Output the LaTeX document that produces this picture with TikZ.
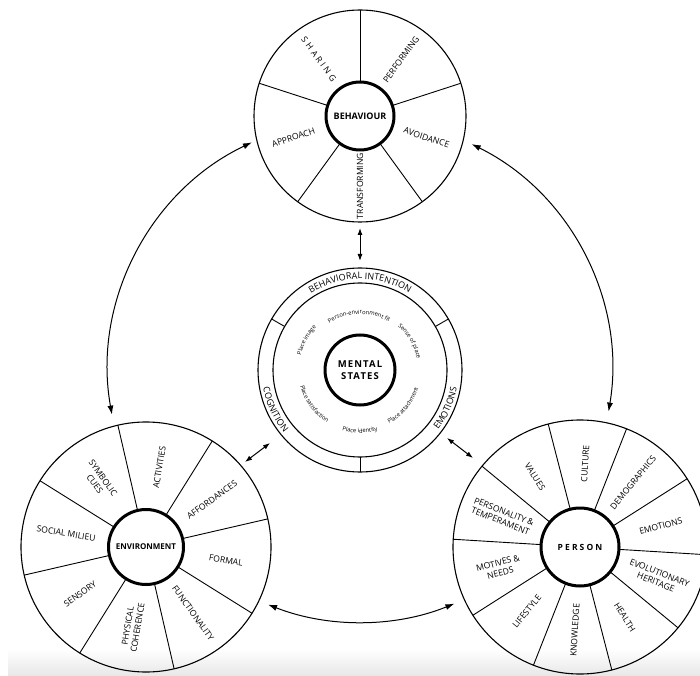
\documentclass[tikz,border=0pt]{standalone}
\usepackage{fontspec}
\setmainfont{Open Sans}
\newfontfamily\spaced[LetterSpace=30]{Open Sans}
\newfontfamily\spacedb[LetterSpace=25]{Open Sans}
\newfontfamily\spacedm[LetterSpace=12]{Open Sans}
\usetikzlibrary{arrows.meta,calc,decorations.text}
\newcommand\ringfnt{\fontsize{9}{10}\selectfont}
\newcommand\smallfnt{\fontsize{5.8}{7}\selectfont}
\tikzset{
  hub/.style={circle, draw, line width=3pt, fill=white, minimum size=#1, inner sep=0pt,
    font=\fontsize{8}{9}\selectfont\bfseries, align=center},
  rim/.style={line width=1.1pt},
  spoke/.style={line width=0.9pt},
  lbl/.style={font=\fontsize{8.6}{10}\selectfont, align=center, inner sep=0pt},
  link/.style={line width=1pt, {Latex[length=9pt,width=6pt]}-{Latex[length=9pt,width=6pt]}},
  slink/.style={line width=1pt, {Latex[length=7pt,width=5pt]}-{Latex[length=7pt,width=5pt]}},
}
\begin{document}
\begin{tikzpicture}[x=1pt,y=1pt]
\useasboundingbox (0,0) rectangle (700,675);
\clip (0,0) rectangle (700,675);
\fill[white] (0,0) rectangle (700,675);
\shade[top color=white, bottom color=black!9] (8,0) rectangle (700,26);

% ---------- centres
\coordinate (Bc) at (360,559);
\coordinate (Mc) at (360,305);
\coordinate (Ec) at (146,128);
\coordinate (Pc) at (580,128);

% ---------- Behaviour wheel
\draw[rim] (Bc) circle[radius=106pt];
\foreach \a in {18,90,162,234,306}
  \draw[spoke] ($(Bc)+(\a:34)$) -- ($(Bc)+(\a:106)$);
\node[hub=68pt, font=\fontsize{9}{10}\selectfont\bfseries] (B) at (Bc) {BEHAVIOUR};
\node[lbl, rotate=-54] (b1) at ($(Bc)+(126:70)$) {\spaced SHARING};
\node[lbl, rotate=54]  (b2) at ($(Bc)+(54:70)$)  {PERFORMING};
\node[lbl, rotate=-19] (b3) at ($(Bc)+(-18:70)$) {AVOIDANCE};
\node[lbl, rotate=90]  (b4) at ($(Bc)+(270:70)$) {TRANSFORMING};
\node[lbl, rotate=18]  (b5) at ($(Bc)+(198:70)$) {APPROACH};

% ---------- Environment wheel
\draw[rim] (Ec) circle[radius=125pt];
\foreach \a in {13,58,103,148,193,238,283,328}
  \draw[spoke] ($(Ec)+(\a:37.5)$) -- ($(Ec)+(\a:125)$);
\node[hub=75pt] (E) at (Ec) {ENVIRONMENT};
\foreach \a/\r/\t [count=\i] in {35.5/35.5/AFFORDANCES, 80.5/80.5/ACTIVITIES,
   125.5/-54.5/{SYMBOLIC\\CUES}, 170.5/-9.5/{SOCIAL MILIEU}, 215.5/35.5/SENSORY,
   260.5/80.5/{PHYSICAL\\COHERENCE}, 305.5/-54.5/FUNCTIONALITY, 350.5/-9.5/FORMAL}
  \node[lbl, rotate=\r] (e\i) at ($(Ec)+(\a:81)$) {\t};

% ---------- Person wheel
\draw[rim] (Pc) circle[radius=127pt];
\foreach \a in {-3.5,32.5,68.5,104.5,140.5,176.5,212.5,248.5,284.5,320.5}
  \draw[spoke] ($(Pc)+(\a:39)$) -- ($(Pc)+(\a:127)$);
\node[hub=78pt, font=\fontsize{8.5}{9}\selectfont\spacedb\bfseries] (P) at (Pc) {PERSON};
\foreach \a/\r/\t [count=\i] in {14.5/14.5/EMOTIONS, 50.5/50.5/DEMOGRAPHICS,
   86.5/86.5/CULTURE, 122.5/-57.5/VALUES, 158.5/-21.5/{PERSONALITY \&\\TEMPERAMENT},
   194.5/14.5/{MOTIVES \&\\NEEDS}, 230.5/50.5/LIFESTYLE, 266.5/86.5/KNOWLEDGE,
   302.5/-57.5/HEALTH, 338.5/-21.5/{EVOLUTIONARY\\HERITAGE}}
  \node[lbl, rotate=\r] (p\i) at ($(Pc)+(\a:83.5)$) {\t};

% ---------- Mental states
\draw[rim] (Mc) circle[radius=102pt];
\draw[rim] (Mc) circle[radius=87pt];
\foreach \a in {30,150,270}
  \draw[spoke] ($(Mc)+(\a:87)$) -- ($(Mc)+(\a:102)$);
\node[hub=70pt, font=\fontsize{9.5}{11.5}\selectfont\spacedm\bfseries] (M) at (Mc) {MENTAL\\STATES};

\path[decorate, decoration={text along path, text align=center,
   text={|\ringfnt|BEHAVIORAL INTENTION}}]
   ($(Mc)+(150:91)$) arc[start angle=150, end angle=30, radius=91pt];
\path[decorate, decoration={text along path, text align=center,
   text={|\ringfnt|COGNITION}}]
   ($(Mc)+(160:98.5)$) arc[start angle=160, end angle=250, radius=98.5pt];
\path[decorate, decoration={text along path, text align=center,
   text={|\ringfnt|EMOTIONS}}]
   ($(Mc)+(291:98.5)$) arc[start angle=291, end angle=381, radius=98.5pt];

% inner small texts (clockwise, tops outward)
\path[decorate, decoration={text along path, text align=center,
   text={|\smallfnt|Person-environment fit}}]
   ($(Mc)+(141:56)$) arc[start angle=141, end angle=41, radius=56pt];
\path[decorate, decoration={text along path, text align=center,
   text={|\smallfnt|Sense of place}}]
   ($(Mc)+(80:58)$) arc[start angle=80, end angle=-20, radius=58pt];
\path[decorate, decoration={text along path, text align=center,
   text={|\smallfnt|Place image}}]
   ($(Mc)+(200.7:61)$) arc[start angle=200.7, end angle=100.7, radius=61pt];
% (counter-clockwise, tops inward)
\path[decorate, decoration={text along path, text align=center,
   text={|\smallfnt|Place attachment}}]
   ($(Mc)+(270.6:61)$) arc[start angle=270.6, end angle=370.6, radius=61pt];
\path[decorate, decoration={text along path, text align=center,
   text={|\smallfnt|Place identity}}]
   ($(Mc)+(220:63)$) arc[start angle=220, end angle=320, radius=63pt];
\path[decorate, decoration={text along path, text align=center,
   text={|\smallfnt|Place satisfaction}}]
   ($(Mc)+(166.5:62)$) arc[start angle=166.5, end angle=266.5, radius=62pt];

% ---------- connectors
\coordinate (bm1) at (360,447);
\coordinate (bm2) at (360,414);
\draw[slink] (bm1) -- (bm2);
\coordinate (me1) at (270,232);
\coordinate (me2) at (245,213);
\draw[slink] (me1) -- (me2);
\coordinate (mp1) at (447,237);
\coordinate (mp2) at (473,217);
\draw[slink] (mp1) -- (mp2);

\coordinate (a1) at ($(Mc)+(115.4:252)$);
\draw[link] (a1) arc[start angle=115.4, end angle=190.2, radius=252pt];
\coordinate (a2) at ($(Mc)+(63.7:252)$);
\draw[link] (a2) arc[start angle=63.7, end angle=-9.5, radius=252pt];
\coordinate (a3) at ($(Mc)+(248.6:252)$);
\draw[link] (a3) arc[start angle=248.6, end angle=292, radius=252pt];
\end{tikzpicture}
\end{document}
